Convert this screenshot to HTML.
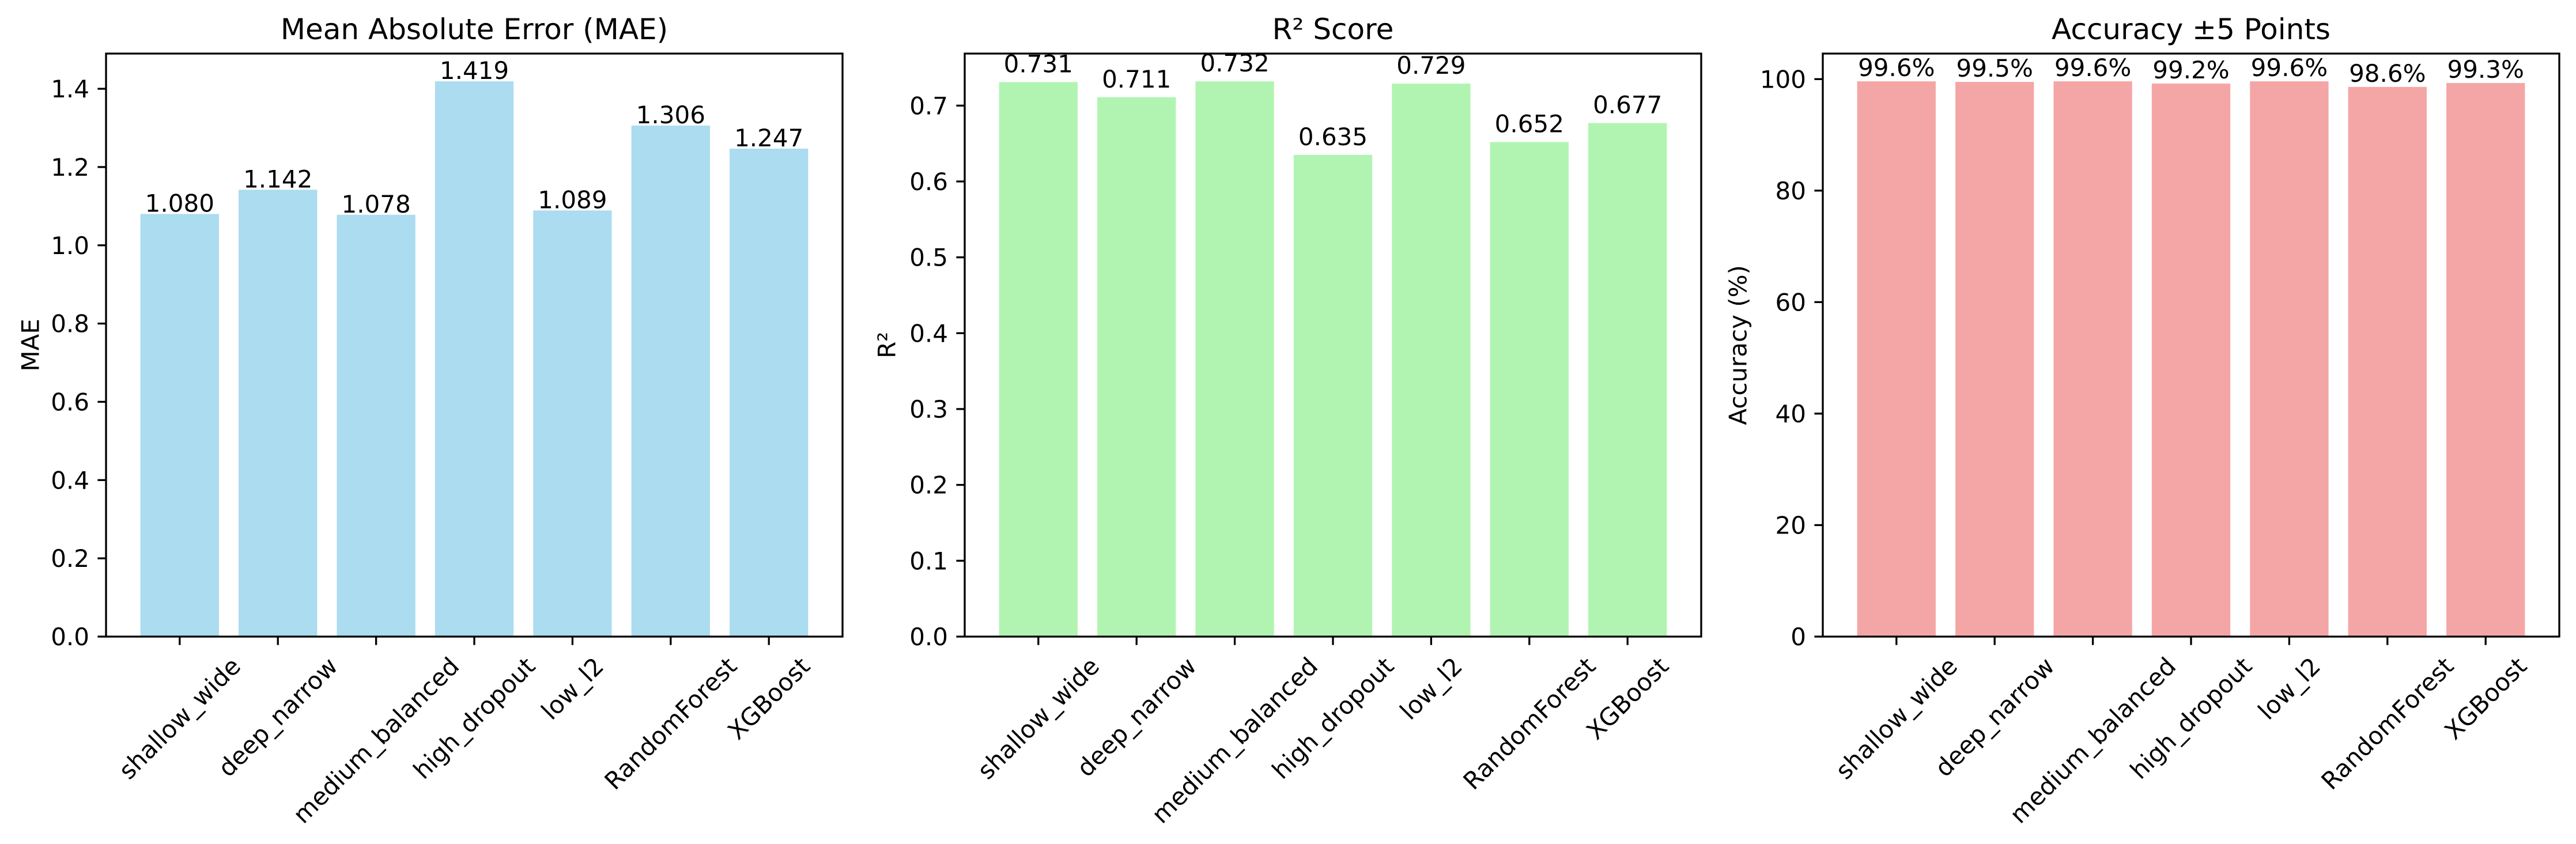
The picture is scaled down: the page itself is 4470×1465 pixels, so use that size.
<!DOCTYPE html>
<html><head><meta charset="utf-8">
<style>
html,body{margin:0;padding:0;background:#fff;}
svg{display:block;font-family:"DejaVu Sans","Liberation Sans",sans-serif;}
</style></head>
<body>
<svg id="chart" xmlns="http://www.w3.org/2000/svg" width="4470" height="1465" viewBox="0 0 4470 1465">
<rect x="0" y="0" width="4470" height="1465" fill="#fff"/>
</svg>
<script>
const categories = ["shallow_wide","deep_narrow","medium_balanced","high_dropout","low_l2","RandomForest","XGBoost"];
const maeValues = [1.080, 1.142, 1.078, 1.419, 1.089, 1.306, 1.247];
const r2Values = [0.731, 0.711, 0.732, 0.635, 0.729, 0.652, 0.677];
const accValues = [99.6, 99.5, 99.6, 99.2, 99.6, 98.6, 99.3];
const maeTicks = [0.0, 0.2, 0.4, 0.6, 0.8, 1.0, 1.2, 1.4];
const r2Ticks = [0.0, 0.1, 0.2, 0.3, 0.4, 0.5, 0.6, 0.7];
const accTicks = [0, 20, 40, 60, 80, 100];

const NS = "http://www.w3.org/2000/svg";
const svg = document.getElementById('chart');
function mk(tag, attrs, parent){
  const e = document.createElementNS(NS, tag);
  for (const k in attrs) e.setAttribute(k, attrs[k]);
  (parent||svg).appendChild(e);
  return e;
}
const TOP = 93, BOTTOM = 1105, W = 1278;
const panels = [
  {key:'mae', left:184, values:maeValues, ticks:maeTicks, tickFmt:v=>v.toFixed(1), valFmt:v=>v.toFixed(3), color:'#abdcf0', title:'Mean Absolute Error (MAE)', ylabel:'MAE', ylabelX:53, labelOff:4},
  {key:'r2', left:1674, values:r2Values, ticks:r2Ticks, tickFmt:v=>v.toFixed(1), valFmt:v=>v.toFixed(3), color:'#b1f4b1', title:'R² Score', ylabel:'R²', ylabelX:1539, labelOff:17},
  {key:'accuracy', left:3163, values:accValues, ticks:accTicks, tickFmt:v=>String(v), valFmt:v=>v.toFixed(1)+'%', color:'#f4a6a6', title:'Accuracy ±5 Points', ylabel:'Accuracy (%)', ylabelX:3016, labelOff:9}
];

panels.forEach(p => {
  const g = mk('g', {});
  
  
  const ymax = Math.max(...p.values) * 1.05;
  const y = v => BOTTOM - v / ymax * (BOTTOM - TOP);
  const n = categories.length;
  const step = W / (n + 0.5);
  const x = i => p.left + (i + 0.75) * step;
  const bw = 0.8 * step;

  p.values.forEach((v, i) => {
    const r = mk('rect', {x:x(i)-bw/2, y:y(v), width:bw, height:BOTTOM-y(v), fill:p.color}, g);
    
    
    const t = mk('text', {x:x(i), y:y(v)-p.labelOff, 'text-anchor':'middle', 'font-size':42, fill:'#000'}, g);
    
    
    t.textContent = p.valFmt(v);
  });

  // frame
  const fr = mk('rect', {x:p.left, y:TOP, width:W, height:BOTTOM-TOP, fill:'none', stroke:'#000', 'stroke-width':3.3}, g);
  
  

  // y ticks
  p.ticks.forEach(tv => {
    const yy = y(tv);
    const l = mk('line', {x1:p.left-14.6, x2:p.left, y1:yy, y2:yy, stroke:'#000', 'stroke-width':3.3}, g);
    
    
    const t = mk('text', {x:p.left-29, y:yy+15, 'text-anchor':'end', 'font-size':42, fill:'#000'}, g);
    
    
    t.textContent = p.tickFmt(tv);
  });

  // x ticks and rotated labels
  categories.forEach((c, i) => {
    const xx = x(i);
    const l = mk('line', {x1:xx, x2:xx, y1:BOTTOM, y2:BOTTOM+14.6, stroke:'#000', 'stroke-width':3.3}, g);
    
    
    const t = mk('text', {x:0, y:0, 'text-anchor':'middle', 'font-size':42, fill:'#000', 'dominant-baseline':'central'}, g);
    
    
    t.textContent = c;
    const L = t.getComputedTextLength ? t.getComputedTextLength() : c.length * 25;
    const h = (L + 42) * Math.SQRT1_2;
    const cy = BOTTOM + 29 + h / 2;
    t.setAttribute('transform', 'translate(' + xx + ',' + cy + ') rotate(-45)');
  });

  const ti = mk('text', {x:p.left + W/2, y:68, 'text-anchor':'middle', 'font-size':50, fill:'#000'}, g);
  
  
  ti.textContent = p.title;

  const yl = mk('text', {x:0, y:0, 'text-anchor':'middle', 'font-size':42, fill:'#000', 'dominant-baseline':'central', transform:'translate(' + p.ylabelX + ',' + ((TOP+BOTTOM)/2) + ') rotate(-90)'}, g);
  
  
  yl.textContent = p.ylabel;
});
</script>
</body></html>
